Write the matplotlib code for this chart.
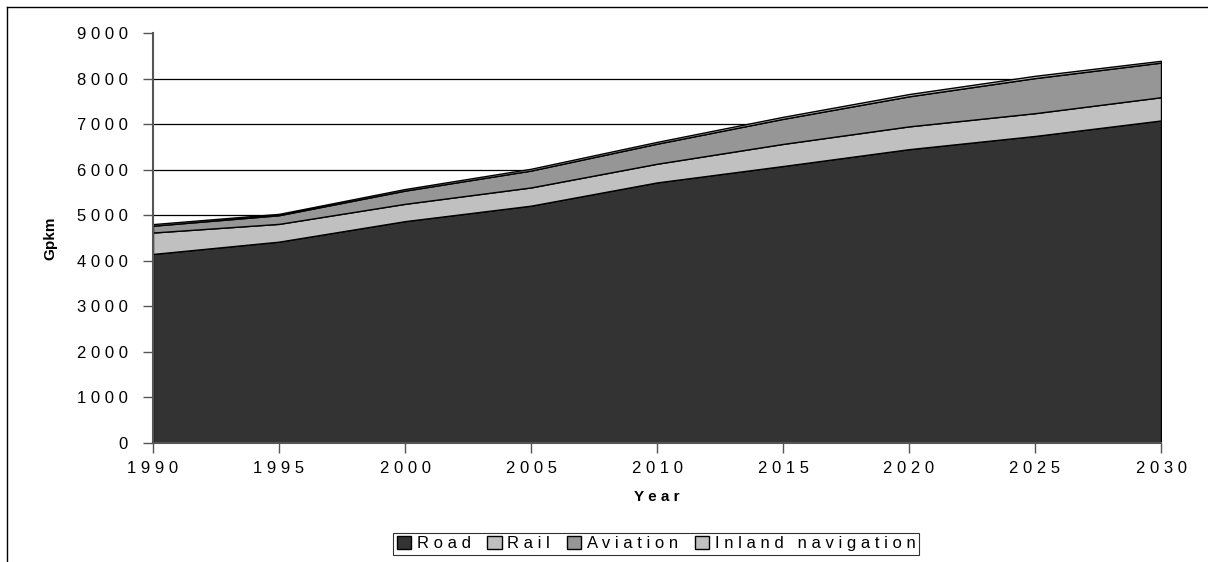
import numpy as np
import matplotlib
matplotlib.use('Agg')
import matplotlib.pyplot as plt
from matplotlib.lines import Line2D
from matplotlib.patches import Patch

plt.rcParams['font.family'] = ['Liberation Sans', 'DejaVu Sans']

# data (Gpkm)
years = [1990, 1995, 2000, 2005, 2010, 2015, 2020, 2025, 2030]
road = [4150, 4420, 4870, 5210, 5720, 6080, 6450, 6740, 7080]
rail = [470, 390, 380, 400, 410, 485, 500, 500, 510]
aviation = [150, 190, 290, 370, 440, 550, 660, 770, 760]
inland = [35, 30, 35, 40, 40, 45, 50, 50, 40]
series_names = ['Road', 'Rail', 'Aviation', 'Inland navigation']
colors = ['#333333', '#c0c0c0', '#969696', '#c0c0c0']


def spaced(s):
    """Excel-like letter spacing"""
    return ' '.join(s)


fig = plt.figure(figsize=(12.08, 5.62), dpi=100)
ax = fig.add_axes([153 / 1208, 1 - 443 / 562, (1161 - 153) / 1208, (443 - 33) / 562])

# stacked areas
ax.stackplot(years, road, rail, aviation, inland, colors=colors,
             edgecolor='black', linewidth=1.0, zorder=3)

ax.set_xlim(1990, 2030)
ax.set_ylim(0, 9000)
ax.set_xticks(years)
ax.set_xticklabels([spaced(str(y)) for y in years], fontsize=12)
yt = np.arange(0, 9001, 1000)
ax.set_yticks(yt)
ax.set_yticklabels([spaced(str(v)) for v in yt], fontsize=12)

# grid
ax.yaxis.grid(True, color='black', linewidth=0.9, zorder=1)
ax.set_axisbelow(True)
ax.get_ygridlines()[-1].set_visible(False)

for s in ['top', 'right']:
    ax.spines[s].set_visible(False)
for s in ['left', 'bottom']:
    ax.spines[s].set_color('#555555')
    ax.spines[s].set_linewidth(1.5)
    ax.spines[s].set_zorder(4)
ax.tick_params(axis='both', direction='out', length=7, color='#555555', width=1)
ax.tick_params(axis='y', pad=11)
ax.tick_params(axis='x', pad=6)

ax.set_xlabel(spaced('Year'), fontsize=11, fontweight='bold', labelpad=10)
ax.set_ylabel('Gpkm', fontsize=11, fontweight='bold', labelpad=14)

# legend
handles = [Patch(facecolor=c, edgecolor='black', linewidth=1) for c in colors]
leg = fig.legend(handles, [spaced(n) for n in series_names], loc='lower center',
                 bbox_to_anchor=(656 / 1208, -0.002), ncol=4, fontsize=12, frameon=True,
                 fancybox=False, edgecolor='black', handlelength=0.85, handleheight=0.85,
                 handletextpad=0.35, columnspacing=1.0, borderpad=0.2)
leg.get_frame().set_linewidth(0.8)

# figure border
fw, fh = 1208, 562
x0, x1, y1 = 6.5 / fw, 1207.5 / fw, 1 - 6.5 / fh
fig.add_artist(Line2D([x0, x0], [0, y1], color='black', linewidth=1, transform=fig.transFigure))
fig.add_artist(Line2D([x0, x1], [y1, y1], color='black', linewidth=1, transform=fig.transFigure))

plt.savefig('out.png', dpi=100)
